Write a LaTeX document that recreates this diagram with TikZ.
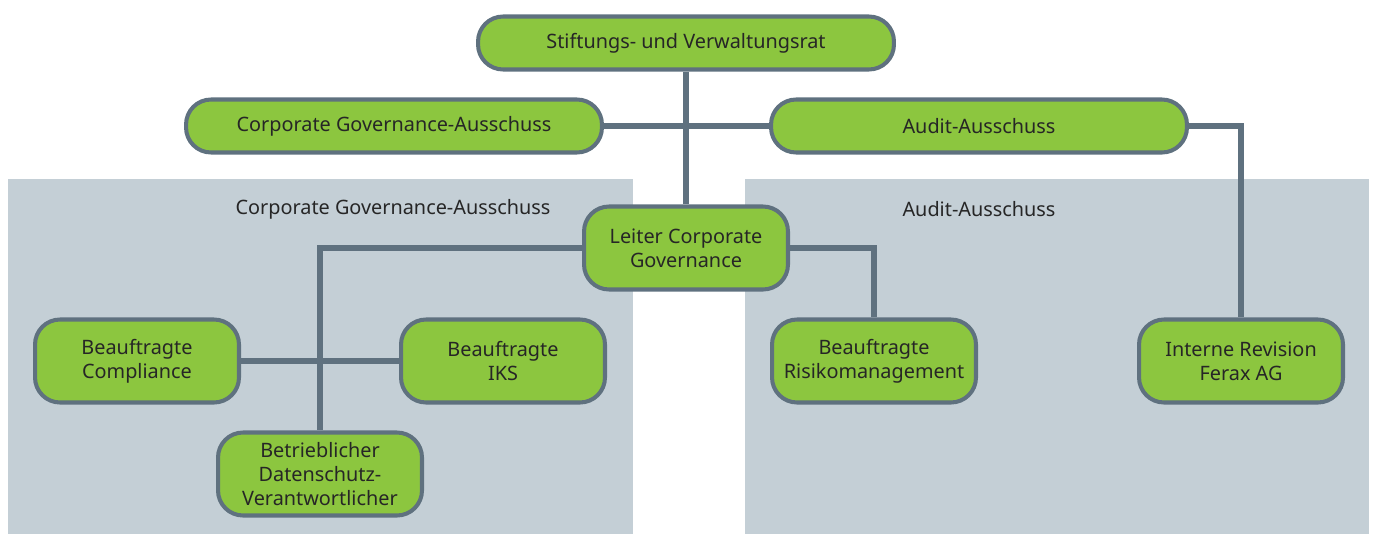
\documentclass[tikz,border=0pt]{standalone}
\usepackage{fontspec}
\setmainfont{Noto Sans}
\usetikzlibrary{positioning}
\definecolor{boxgreen}{HTML}{8CC63F}
\definecolor{edgegray}{HTML}{5F717F}
\definecolor{panelgray}{HTML}{C4CFD6}
\pgfdeclarelayer{panel}
\pgfdeclarelayer{wires}
\pgfsetlayers{panel,wires,main}

\begin{document}
\begin{tikzpicture}[x=0.02cm, y=-0.02cm, line join=round,
    orgbox/.style={draw=edgegray, line width=2.3pt, fill=boxgreen,
                   rounded corners=0.5cm, text=black!85, align=center,
                   font=\fontsize{11.3}{13.8}\selectfont,
                   minimum width=4.08cm, minimum height=1.66cm, inner sep=2pt},
    widebox/.style={orgbox, minimum width=8.32cm, minimum height=1.06cm},
    wire/.style={draw=edgegray, line width=3.4pt},
    panellabel/.style={text=black!85, font=\fontsize{11.3}{13.8}\selectfont}]

\useasboundingbox (0,0) rectangle (1375,534);

% Panels
\begin{pgfonlayer}{panel}
\fill[panelgray] (8,179) rectangle (633,534);
\fill[panelgray] (745,179) rectangle (1369,534);
\end{pgfonlayer}
\node[panellabel] (cgalabel) at (393,209) {Corporate Governance-Ausschuss};
\node[panellabel] (auditlabel) at (979,209) {Audit-Ausschuss};

% Nodes
\node[widebox] (board) at (686,43) {Stiftungs- und Verwaltungsrat};
\node[widebox] (cga) at (394,126) {Corporate Governance-Ausschuss};
\node[widebox] (audit) at (979,126) {Audit-Ausschuss};

\node[orgbox] (leiter) at (686,248) {Leiter Corporate\\Governance};
\node[orgbox] (compliance) at (137,361) {Beauftragte\\Compliance};
\node[orgbox] (iks) at (503,361) {Beauftragte\\IKS};
\node[orgbox] (risiko) at (874,361) {Beauftragte\\Risikomanagement};
\node[orgbox] (revision) at (1241,361) {Interne Revision\\Ferax AG};
\node[orgbox] (dsb) at (320,474) {Betrieblicher\\Datenschutz-\\Verantwortlicher};

% Connections
\begin{pgfonlayer}{wires}
\draw[wire] (board.south) -- (leiter.north);
\draw[wire] (cga.east) -- (audit.west);
\draw[wire] (audit.east) -| (revision.north);
\draw[wire] (leiter.west) -| (dsb.north);
\draw[wire] (compliance.east) -- (iks.west);
\draw[wire] (leiter.east) -| (risiko.north);
\end{pgfonlayer}

\end{tikzpicture}
\end{document}
